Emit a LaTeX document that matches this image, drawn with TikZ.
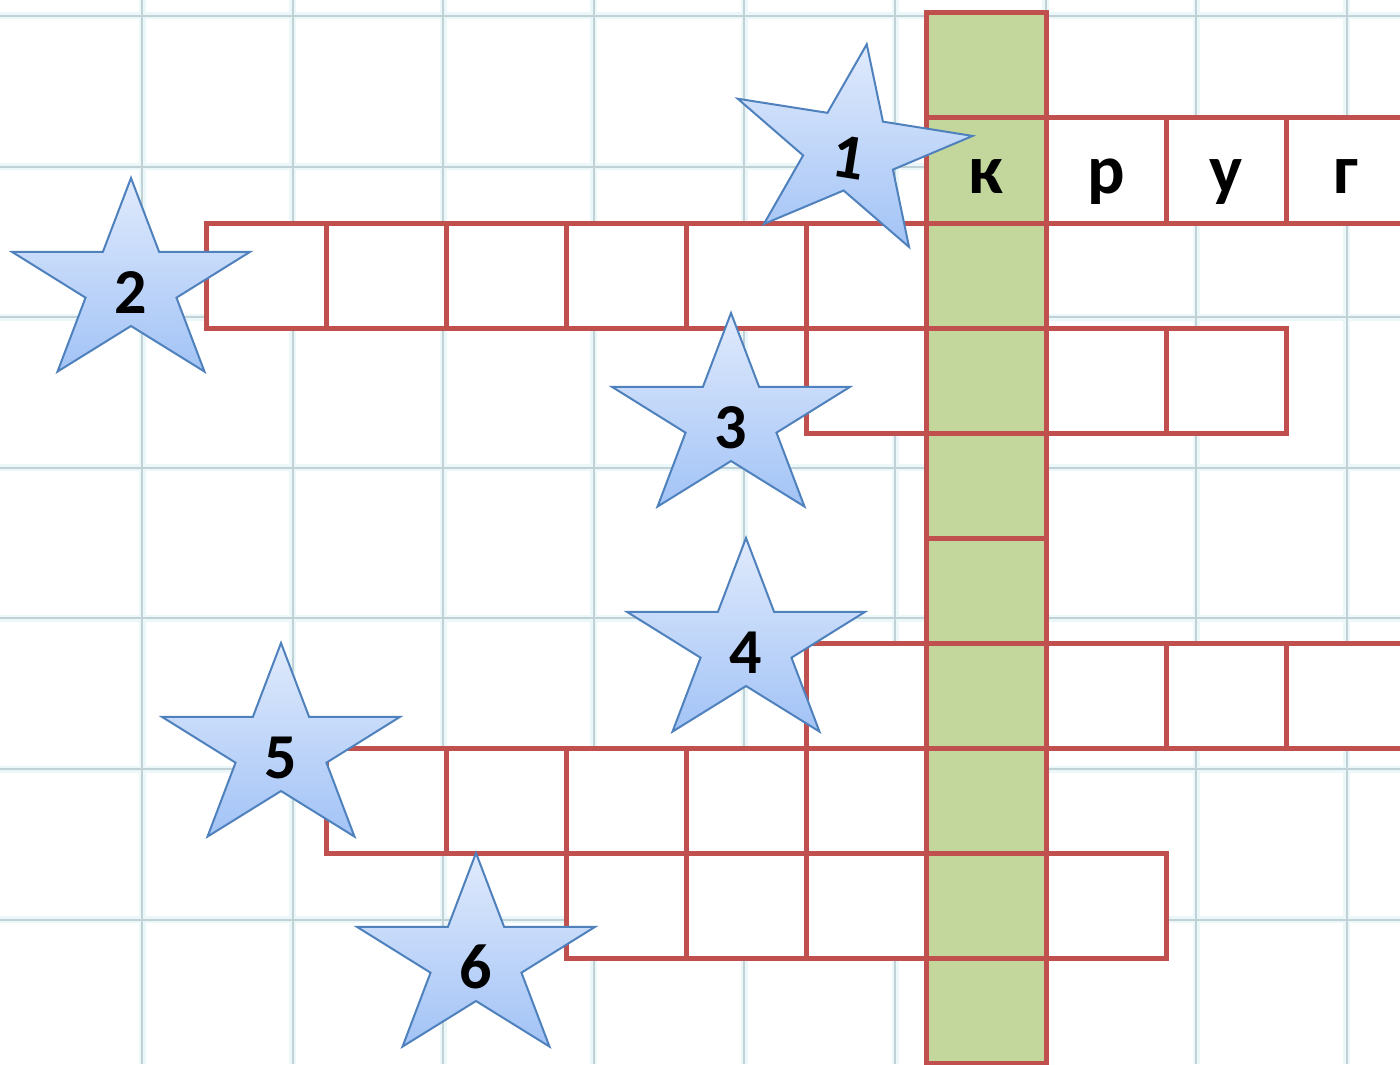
\documentclass[tikz,border=0pt]{standalone}
\usepackage{fontspec}
\setmainfont{Carlito}
\definecolor{cwred}{RGB}{192,80,77}
\definecolor{cwgreen}{RGB}{195,214,155}
\definecolor{gridline}{RGB}{192,210,214}
\definecolor{gridhalo}{RGB}{236,247,249}
\definecolor{starline}{RGB}{79,129,189}
\definecolor{startop}{RGB}{224,234,252}
\definecolor{starbot}{RGB}{162,195,246}
\tikzset{
  cellbox/.style={draw=cwred, line width=2.5pt, minimum width=60pt, minimum height=52.5pt, inner sep=0pt, fill=white},
  greenbox/.style={cellbox, fill=cwgreen},
  starshape/.style={draw=starline, line width=1pt, line join=miter, top color=startop, bottom color=starbot},
  starnum/.style={font=\fontsize{32}{32}\selectfont\bfseries, anchor=base, inner sep=0pt, transform shape},
  letter/.style={font=\fontsize{35}{35}\selectfont\bfseries, anchor=base, inner sep=0pt},
  bghalo/.style={gridhalo, line width=3.5pt},
  bgline/.style={gridline, line width=1pt}
}
\newcommand\crossstar[5]{%
  \begin{scope}[shift={(#2,#3)}, rotate=#4]
    \draw[starshape] (-90:125 and 107) -- (-54:47.8 and 41) -- (-18:125 and 107)
      -- (18:47.8 and 41) -- (54:125 and 107) -- (90:47.8 and 41)
      -- (126:125 and 107) -- (162:47.8 and 41) -- (198:125 and 107)
      -- (234:47.8 and 41) -- cycle;
    \node[starnum] (#1) at (0,28) {#5};
  \end{scope}}
\begin{document}
\begin{tikzpicture}[x=0.5pt, y=-0.5pt]
  \useasboundingbox (0,0) rectangle (1400,1064);
  \clip (0,0) rectangle (1400,1064);
  \fill[white] (0,0) rectangle (1400,1064);
  % background squared paper
  \foreach \k in {0,...,8} {
    \draw[bghalo] ({142+150.6*\k},0) -- ({142+150.6*\k},1064);
  }
  \foreach \k in {0,...,6} {
    \draw[bghalo] (0,{16+150.6*\k}) -- (1400,{16+150.6*\k});
  }
  \foreach \k in {0,...,8} {
    \draw[bgline] ({142+150.6*\k},0) -- ({142+150.6*\k},1064);
  }
  \foreach \k in {0,...,6} {
    \draw[bgline] (0,{16+150.6*\k}) -- (1400,{16+150.6*\k});
  }
  % white cells (row/column)
  \foreach \r/\c in {1/7,1/8,1/9,
                     2/0,2/1,2/2,2/3,2/4,2/5,
                     3/5,3/7,3/8,
                     6/5,6/7,6/8,6/9,
                     7/1,7/2,7/3,7/4,7/5,
                     8/3,8/4,8/5,8/7} {
    \node[cellbox] (c\r-\c) at ({266+120*\c},{65.5+105*\r}) {};
  }
  % green key column
  \foreach \r in {0,...,9} {
    \node[greenbox] (g\r) at (986,{65.5+105*\r}) {};
  }
  % letters of the first word
  \node[letter] (la) at (986,193) {к};
  \node[letter] (lb) at (1106,193) {р};
  \node[letter] (lc) at (1226,193) {у};
  \node[letter] (ld) at (1346,193) {г};
  % stars with numbers
  \crossstar{s2}{131}{285}{0}{2}
  \crossstar{s3}{731}{420}{0}{3}
  \crossstar{s4}{746}{645}{0}{4}
  \crossstar{s5}{281}{750}{0}{5}
  \crossstar{s6}{476}{960}{0}{6}
  \crossstar{s1}{850}{150}{-9}{1}
\end{tikzpicture}
\end{document}
